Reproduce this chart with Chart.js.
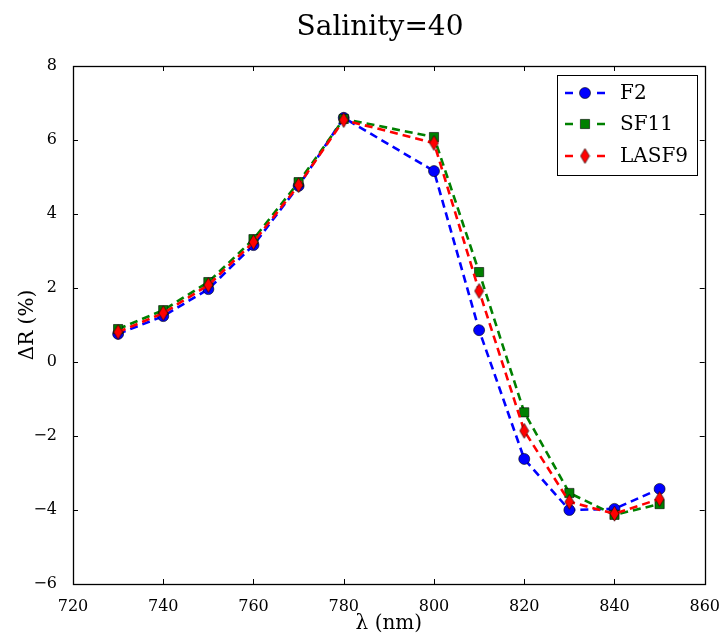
<!DOCTYPE html>
<html><head><meta charset="utf-8">
<script src="https://cdn.jsdelivr.net/npm/chart.js@4/dist/chart.umd.min.js"></script>
<style>html,body{margin:0;padding:0;background:#fff}#wrap{width:725px;height:637px}</style>
</head><body><div id="wrap"><canvas id="c" width="725" height="637"></canvas></div>
<script>
const wavelengths = [730, 740, 750, 760, 770, 780, 800, 810, 820, 830, 840, 850];
const f2Values    = [0.76, 1.24, 1.97, 3.16, 4.76, 6.60, 5.16, 0.86, -2.62, -4.00, -3.97, -3.43];
const sf11Values  = [0.89, 1.40, 2.16, 3.32, 4.86, 6.57, 6.08, 2.43, -1.36, -3.54, -4.13, -3.84];
const lasf9Values = [0.81, 1.32, 2.08, 3.24, 4.78, 6.54, 5.92, 1.92, -1.86, -3.78, -4.10, -3.70];
const xTicks = [720, 740, 760, 780, 800, 820, 840, 860];
const yTicks = [-6, -4, -2, 0, 2, 4, 6, 8];
const titleText = 'Salinity=40';
const xLabel = 'λ (nm)';
const yLabel = 'ΔR (%)';

const SERIF = '"DejaVu Serif", serif';

function thinDiamond(w, h) {
  const c = document.createElement('canvas');
  c.width = w + 2; c.height = h + 2;
  const g = c.getContext('2d');
  g.beginPath();
  g.moveTo(c.width / 2, 1);
  g.lineTo(c.width - 1, c.height / 2);
  g.lineTo(c.width / 2, c.height - 1);
  g.lineTo(1, c.height / 2);
  g.closePath();
  g.fillStyle = '#ff0000';
  g.fill();
  g.lineWidth = 0.6;
  g.strokeStyle = '#000';
  g.stroke();
  return c;
}
const diamondImg = thinDiamond(9, 15);

function pts(vals) { return wavelengths.map((x, i) => ({x, y: vals[i]})); }

const common = {borderWidth: 2.6, borderDash: [8, 5], fill: false, tension: 0, pointBorderColor: '#000', pointBorderWidth: 0.6};
const datasets = [
  Object.assign({label: 'F2', data: pts(f2Values), borderColor: '#0000ff', backgroundColor: '#0000ff', pointBackgroundColor: '#0000ff', pointStyle: 'circle', pointRadius: 5.5, order: 3}, common),
  Object.assign({label: 'SF11', data: pts(sf11Values), borderColor: '#008000', backgroundColor: '#008000', pointBackgroundColor: '#008000', pointStyle: 'rect', pointRadius: 6.5, order: 2}, common),
  Object.assign({label: 'LASF9', data: pts(lasf9Values), borderColor: '#ff0000', backgroundColor: '#ff0000', pointBackgroundColor: '#ff0000', pointStyle: diamondImg, pointRadius: 7, order: 1}, common)
];

const decor = {
  id: 'decor',
  afterDraw(chart) {
    const ctx = chart.ctx, a = chart.chartArea;
    const xs = chart.scales.x, ys = chart.scales.y;
    ctx.save();
    ctx.strokeStyle = '#000';
    ctx.lineWidth = 1;
    const tl = 5;
    ctx.beginPath();
    xTicks.forEach(v => {
      const p = Math.round(xs.getPixelForValue(v)) + 0.5;
      ctx.moveTo(p, a.bottom); ctx.lineTo(p, a.bottom - tl);
      ctx.moveTo(p, a.top); ctx.lineTo(p, a.top + tl);
    });
    yTicks.forEach(v => {
      const p = Math.round(ys.getPixelForValue(v)) + 0.5;
      ctx.moveTo(a.left, p); ctx.lineTo(a.left + tl, p);
      ctx.moveTo(a.right, p); ctx.lineTo(a.right - tl, p);
    });
    ctx.stroke();
    ctx.lineWidth = 1.3;
    ctx.strokeRect(Math.round(a.left) + 0.5, Math.round(a.top) + 0.5, Math.round(a.right - a.left), Math.round(a.bottom - a.top));
    ctx.fillStyle = '#000';
    ctx.textAlign = 'center';
    ctx.textBaseline = 'middle';
    ctx.font = '28px ' + SERIF;
    ctx.fillText(titleText, 380, 28);
    ctx.font = '20px ' + SERIF;
    ctx.fillText(xLabel, (a.left + a.right) / 2, 624);
    ctx.save();
    ctx.translate(28, (a.top + a.bottom) / 2);
    ctx.rotate(-Math.PI / 2);
    ctx.fillText(yLabel, 0, 0);
    ctx.restore();
    const lx = 557, ly = 75, lw = 140, lh = 100;
    ctx.fillStyle = '#fff';
    ctx.fillRect(lx, ly, lw, lh);
    ctx.lineWidth = 1;
    ctx.strokeStyle = '#000';
    ctx.strokeRect(lx + 0.5, ly + 0.5, lw, lh);
    const rows = [93, 124, 156];
    chart.data.datasets.forEach((ds, i) => {
      const y = rows[i];
      ctx.save();
      ctx.strokeStyle = ds.borderColor;
      ctx.lineWidth = 2.6;
      ctx.beginPath();
      ctx.moveTo(565, y); ctx.lineTo(573, y);
      ctx.moveTo(597, y); ctx.lineTo(605, y);
      ctx.stroke();
      ctx.restore();
      ctx.save();
      ctx.fillStyle = ds.pointBackgroundColor;
      ctx.strokeStyle = '#000';
      ctx.lineWidth = 0.6;
      Chart.helpers.drawPoint(ctx, {pointStyle: ds.pointStyle, radius: ds.pointRadius, borderWidth: 0.6, rotation: 0}, 585, y);
      ctx.restore();
      ctx.fillStyle = '#000';
      ctx.textAlign = 'left';
      ctx.font = '20px ' + SERIF;
      ctx.fillText(ds.label, 620, y + 1);
    });
    ctx.restore();
  }
};

new Chart(document.getElementById('c'), {
  type: 'line',
  data: {datasets},
  options: {
    responsive: false,
    devicePixelRatio: 1,
    animation: false,
    layout: {padding: {top: 66, right: 19, left: 0, bottom: 0}},
    plugins: {legend: {display: false}, title: {display: false}, tooltip: {enabled: false}},
    scales: {
      x: {
        type: 'linear', min: 720, max: 860,
        afterBuildTicks(s) { s.ticks = xTicks.map(v => ({value: v})); },
        afterFit(s) { s.height = 53; },
        grid: {display: false}, border: {display: false},
        ticks: {color: '#000', font: {family: SERIF, size: 16}, padding: 5, maxRotation: 0, autoSkip: false}
      },
      y: {
        type: 'linear', min: -6, max: 8,
        afterBuildTicks(s) { s.ticks = yTicks.map(v => ({value: v})); },
        afterFit(s) { s.width = 73; },
        grid: {display: false}, border: {display: false},
        ticks: {color: '#000', font: {family: SERIF, size: 16}, padding: 8, autoSkip: false,
          callback: v => (v < 0 ? '\u2212' + Math.abs(v) : String(v))}
      }
    }
  },
  plugins: [decor]
});
</script>
</body></html>
